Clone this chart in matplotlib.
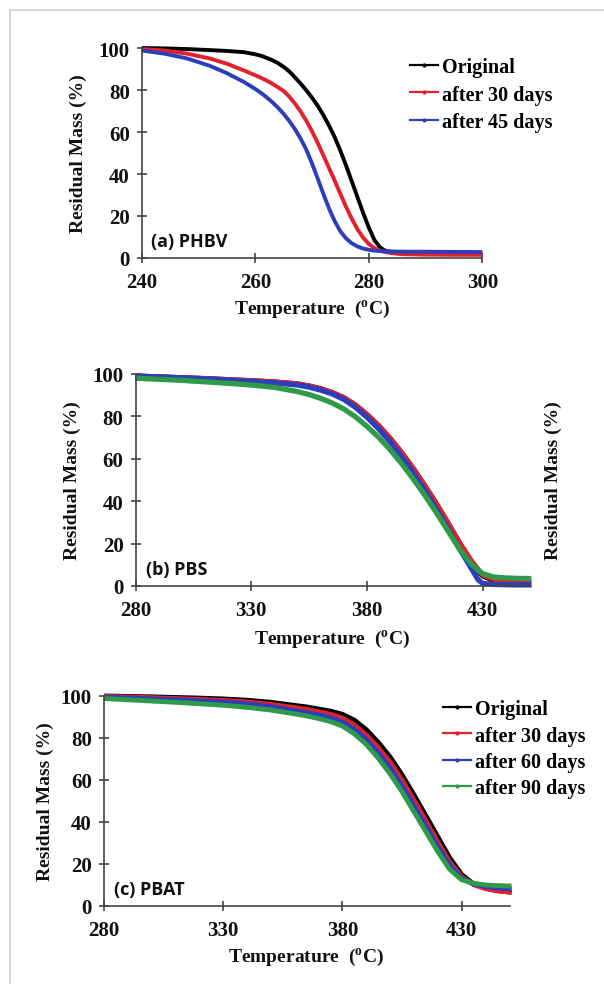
import matplotlib
matplotlib.use("Agg")
import matplotlib.pyplot as plt
from matplotlib.lines import Line2D

plt.rcParams['font.family'] = ['Liberation Serif', 'DejaVu Serif']
plt.rcParams['mathtext.fontset'] = 'custom'
plt.rcParams['mathtext.rm'] = 'Liberation Serif:bold'
plt.rcParams['mathtext.bf'] = 'Liberation Serif:bold'

# ---------------- data ----------------
# (a) PHBV
temp_a = [240, 244, 248, 252, 255, 258, 260, 261, 262, 263, 264, 265, 266, 267, 268, 269,
          270, 271, 272, 273, 274, 275, 276, 277, 278, 279, 280, 281, 282, 283, 284, 286,
          290, 295, 300]
phbv_original = [100, 99.8, 99.5, 99, 98.6, 98, 97, 96.3, 95.3, 94.2, 92.8, 91, 88.8, 86, 83, 79.8,
                 76.3, 72.5, 68, 63, 57.5, 51, 44, 36.5, 29, 21.5, 14.5, 8.5, 5, 3.3, 3, 2.9,
                 2.8, 2.6, 2.5]
phbv_30 = [99.5, 98.8, 97.3, 95, 92.5, 89.3, 87, 85.8, 84.5, 83, 81.3, 79.5, 76.8, 73.5, 69.7, 65.3,
           60.3, 54.8, 48.8, 42.8, 36.8, 30.5, 24.3, 18.7, 13.7, 9.7, 6.7, 4.7, 3.5, 2.8, 2.3, 1.8,
           1.6, 1.5, 1.5]
phbv_45 = [98.8, 97.3, 95, 91.5, 88, 83.8, 80.5, 78.6, 76.5, 74.2, 71.6, 68.6, 65.2, 61.3, 56.8, 51.5,
           45, 37.8, 30.5, 23.5, 17.5, 12.7, 9.3, 7, 5.5, 4.5, 3.9, 3.5, 3.3, 3.1, 3, 3,
           3, 2.9, 2.8]
labels_a = ['Original', 'after 30 days', 'after 45 days']

# (b) PBS
temp_b = [280, 290, 300, 310, 320, 330, 340, 350, 355, 360, 365, 370, 375, 380, 385, 390,
          395, 400, 405, 410, 415, 420, 425, 428, 430, 435, 440, 445, 451]
pbs_original = [99, 98.6, 98.2, 97.8, 97.3, 96.8, 96.2, 95.3, 94.3, 93, 91.2, 88.8, 85.3, 80.8, 75.6, 69.6,
                62.8, 55.3, 47.2, 38.7, 29.6, 20.3, 11.5, 7.3, 4.8, 2.6, 2.1, 1.9, 1.8]
pbs_30 = [99, 98.6, 98.2, 97.8, 97.3, 96.8, 96.2, 95.3, 94.3, 93, 91.2, 88.8, 85.3, 80.8, 75.6, 69.6,
          62.8, 55.3, 47.2, 38.7, 29.6, 20.3, 12, 7.8, 5.3, 3.2, 2.6, 2.4, 2.3]
pbs_60 = [99, 98.6, 98.2, 97.7, 97.1, 96.5, 95.8, 94.8, 93.8, 92.4, 90.6, 88, 84.3, 79.6, 74.2, 68,
          61, 53.3, 45, 36.3, 27, 17.5, 8.5, 3, 1.2, 0.7, 0.6, 0.5, 0.5]
pbs_90 = [98, 97.5, 97, 96.3, 95.6, 94.8, 93.7, 91.7, 90.3, 88.5, 86.3, 83.5, 79.8, 75.3, 70.2, 64.3,
          57.7, 50.5, 42.8, 34.6, 26, 17.5, 10.5, 7.5, 5.8, 4.2, 3.8, 3.6, 3.5]

# (c) PBAT
temp_c = [280, 290, 300, 310, 320, 330, 340, 350, 360, 365, 370, 375, 380, 385, 390,
          395, 400, 405, 410, 415, 420, 425, 430, 435, 440, 445, 451]
pbat_original = [100, 99.8, 99.6, 99.3, 99, 98.6, 98, 97, 95.5, 94.8, 93.8, 92.8, 91.3, 88.5, 84,
                 78, 71, 62.5, 53, 43, 33, 23, 15, 10.5, 8.5, 7.3, 6.5]
pbat_30 = [99.8, 99.5, 99.2, 98.8, 98.4, 97.9, 97.2, 96, 94.5, 93.6, 92.5, 91.3, 89.5, 86.2, 81.5,
           75.5, 68.5, 60, 50.5, 40.5, 30.5, 21, 14, 10.2, 8.3, 7.2, 6.6]
pbat_60 = [99.4, 99, 98.6, 98.2, 97.7, 97.1, 96.3, 94.9, 93, 92.1, 91, 89.6, 87.6, 84.2, 79.3,
           73, 65.8, 57.3, 47.8, 38, 28.3, 19.5, 13.2, 10.5, 9.3, 8.6, 8.1]
pbat_90 = [98.8, 98.2, 97.6, 97, 96.3, 95.6, 94.6, 93.3, 91.5, 90.5, 89.3, 87.8, 85.7, 82, 77,
           70.5, 63, 54.5, 45, 35.5, 26, 17.5, 12.5, 10.8, 10, 9.7, 9.5]
labels_c = ['Original', 'after 30 days', 'after 60 days', 'after 90 days']

xticks_a = [240, 260, 280, 300]
xticks_bc = [280, 330, 380, 430]
yticks = [0, 20, 40, 60, 80, 100]

# ---------------- style ----------------
C_BLACK = '#000000'
C_RED = '#e3202b'
C_BLUE = '#2b3fbd'
C_GREEN = '#2f9a4a'
SPINE = '#444444'
TXT = '#111111'
W, H = 604, 987

fig = plt.figure(figsize=(W / 100, H / 100), dpi=100)
fig.patch.set_facecolor('white')


def rect(l, r, t, b):
    return [l / W, 1 - b / H, (r - l) / W, (b - t) / H]


def style_axes(ax, xlim, xticks):
    ax.set_xlim(*xlim)
    ax.set_ylim(0, 100)
    ax.set_xticks(xticks)
    ax.set_yticks(yticks)
    for s in ['top', 'right']:
        ax.spines[s].set_visible(False)
    for s in ['left', 'bottom']:
        ax.spines[s].set_color(SPINE)
        ax.spines[s].set_linewidth(1.2)
    ax.tick_params(direction='inout', length=7.5, width=1.2, color=SPINE,
                   labelsize=15, pad=5, labelcolor=TXT)
    ax.tick_params(axis='x', pad=6)
    for lab in ax.get_xticklabels() + ax.get_yticklabels():
        lab.set_fontweight('bold')
    ax.set_facecolor('none')


def legend(ax, colors, labels, x, y, spacing):
    handles = [Line2D([], [], color=c, lw=1.6, marker='.', markersize=4) for c in colors]
    ax.legend(handles, labels, loc='upper left', bbox_to_anchor=(x / W, 1 - y / H),
              bbox_transform=fig.transFigure, frameon=False, borderpad=0,
              handlelength=1.4, handletextpad=0.2, labelspacing=spacing,
              prop={'family': 'Liberation Serif', 'weight': 'bold', 'size': 14.5})


def labels(xl_x, xl_y, yl_x, yl_y):
    fig.text(xl_x / W, 1 - xl_y / H, r'Temperature  (${}^{\mathrm{o}}$C)',
             ha='center', va='center', fontsize=14, fontweight='bold', color=TXT)
    fig.text(yl_x / W, 1 - yl_y / H, 'Residual Mass (%)', rotation=90,
             ha='center', va='center', fontsize=14, fontweight='bold', color=TXT)


def draw(ax, x, series, lw):
    for y, c in series:
        ax.plot(x, y, color=c, lw=lw, clip_on=False, solid_capstyle='butt',
                solid_joinstyle='round')


# ---- (a) PHBV ----
axa = fig.add_axes(rect(141.8, 482.3, 49, 259))
draw(axa, temp_a, [(phbv_original, C_BLACK), (phbv_30, C_RED), (phbv_45, C_BLUE)], 2.8)
style_axes(axa, (240, 300), xticks_a)
legend(axa, [C_BLACK, C_RED, C_BLUE], labels_a, 400, 48, 0.37)
labels(312, 310, 78.6, 154)
fig.text(151 / W, 1 - 242 / H, '(a) PHBV', ha='left', va='center',
         fontsize=13, fontweight='bold', family='Open Sans', color=TXT)

# ---- (b) PBS ----
axb = fig.add_axes(rect(135.6, 530.8, 375, 587))
draw(axb, temp_b, [(pbs_original, C_BLACK), (pbs_30, C_RED), (pbs_60, C_BLUE),
                   (pbs_90, C_GREEN)], 3.8)
style_axes(axb, (280, 450.8), xticks_bc)
labels(332, 640, 72.8, 481)
fig.text(553 / W, 1 - 481 / H, 'Residual Mass (%)', rotation=90,
         ha='center', va='center', fontsize=14, fontweight='bold', color=TXT)
fig.text(145.6 / W, 1 - 570 / H, '(b) PBS', ha='left', va='center',
         fontsize=13, fontweight='bold', family='Open Sans', color=TXT)

# ---- (c) PBAT ----
axc = fig.add_axes(rect(104, 510.4, 697, 907))
draw(axc, temp_c, [(pbat_original, C_BLACK), (pbat_30, C_RED), (pbat_60, C_BLUE),
                   (pbat_90, C_GREEN)], 3.5)
style_axes(axc, (280, 450.5), xticks_bc)
legend(axc, [C_BLACK, C_RED, C_BLUE, C_GREEN], labels_c, 433, 690, 0.32)
labels(306, 958, 45, 802)
fig.text(114 / W, 1 - 890 / H, '(c) PBAT', ha='left', va='center',
         fontsize=13, fontweight='bold', family='Open Sans', color=TXT)

# ---- outer frame lines ----
fig.add_artist(Line2D([10 / W, 1], [1 - 10.5 / H, 1 - 10.5 / H], color='#d0d0d0', lw=1.2,
                      transform=fig.transFigure))
fig.add_artist(Line2D([10 / W, 10 / W], [1 - 10.5 / H, 1 - 984 / H], color='#d0d0d0', lw=1.2,
                      transform=fig.transFigure))

fig.savefig('out.png', dpi=100)
